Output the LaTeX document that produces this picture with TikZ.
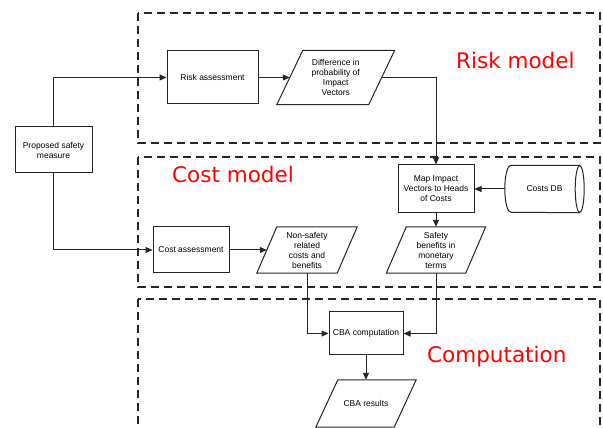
\documentclass[tikz,border=0pt]{standalone}
\usepackage{fontspec}
\setmainfont{Liberation Sans}
\newfontfamily\labelfont{DejaVu Sans}
\usetikzlibrary{arrows.meta}
\newcommand\paraframe[2]{\draw[frame] ([xshift=#2]#1.north west) -- ([xshift=#2]#1.north east) -- ([xshift=-#2]#1.south east) -- ([xshift=-#2]#1.south west) -- cycle;}
\begin{document}
\begin{tikzpicture}[x=1pt,y=1pt,
  frame/.style={draw=black!85, line width=1pt},
  proc/.style={frame, align=center, font=\fontsize{8.5}{10}\selectfont, inner sep=1pt},
  para/.style={align=center, font=\fontsize{8.5}{10}\selectfont, inner sep=1pt},
  conn/.style={line width=1pt, draw=black!85},
  arr/.style={conn, -{Triangle[length=7pt,width=6pt]}},
  region/.style={draw=black!85, line width=1.3pt, dash pattern=on 8pt off 5pt},
  regiontitle/.style={font=\labelfont\fontsize{21.5}{24}\selectfont, text=red, anchor=base west, inner sep=0pt}]
\useasboundingbox[fill=white] (0,0) rectangle (603,428);

% regions
\draw[region] (138,415) rectangle (600,285);
\draw[region] (138,271) rectangle (600,141);
\draw[region] (138,129) rectangle (600,-15);
\node[regiontitle] (tr) at (456,359) {Risk model};
\node[regiontitle] (tc) at (172,245) {Cost model};
\node[regiontitle] (tm) at (427,65) {Computation};

% nodes
\node[proc, minimum width=77pt, minimum height=46pt] (prop) at (53.5,278) {Proposed safety\\measure};
\node[proc, minimum width=91pt, minimum height=53pt] (risk) at (212.5,350.5) {Risk assessment};
\node[para, minimum width=91.5pt, minimum height=54pt] (diff) at (335.75,350.5) {Difference in\\probability of\\Impact\\Vectors};
\paraframe{diff}{13pt}
\node[proc, minimum width=76pt, minimum height=48pt] (map) at (436,239) {Map Impact\\Vectors to Heads\\of Costs};
\node[para, minimum width=79pt, minimum height=47pt] (db) at (544.5,239) {Costs DB};
\draw[frame] ([xshift=-4.5pt]db.east) ellipse [x radius=4.5pt, y radius=23.5pt];
\draw[frame] ([xshift=-4.5pt]db.north east) -- ([xshift=6pt]db.north west) arc[start angle=90, end angle=270, x radius=6pt, y radius=23.5pt] -- ([xshift=-4.5pt]db.south east);
\node[proc, minimum width=76pt, minimum height=46pt] (cost) at (191,178) {Cost assessment};
\node[para, minimum width=80pt, minimum height=46pt] (nons) at (307,178) {Non-safety\\related\\costs and\\benefits};
\paraframe{nons}{10pt}
\node[para, minimum width=79pt, minimum height=46pt] (safe) at (436,178) {Safety\\benefits in\\monetary\\terms};
\paraframe{safe}{10pt}
\node[proc, minimum width=74pt, minimum height=43pt] (cba) at (366,94.5) {CBA computation};
\node[para, minimum width=78pt, minimum height=47pt] (res) at (366,24.5) {CBA results};
\paraframe{res}{11pt}

% connectors
\draw[arr] (prop.north) |- (risk.west);
\draw[arr] (prop.south) |- (cost.west);
\draw[arr] (risk.east) -- (diff.west);
\draw[arr] (diff.east) -| (map.north);
\draw[arr] (db.west) -- (map.east);
\draw[arr] (map.south) -- (safe.north);
\draw[arr] (cost.east) -- (nons.west);
\draw[arr] (nons.south) |- (cba.west);
\draw[arr] (safe.south) |- (cba.east);
\draw[arr] (cba.south) -- (res.north);
\end{tikzpicture}
\end{document}
